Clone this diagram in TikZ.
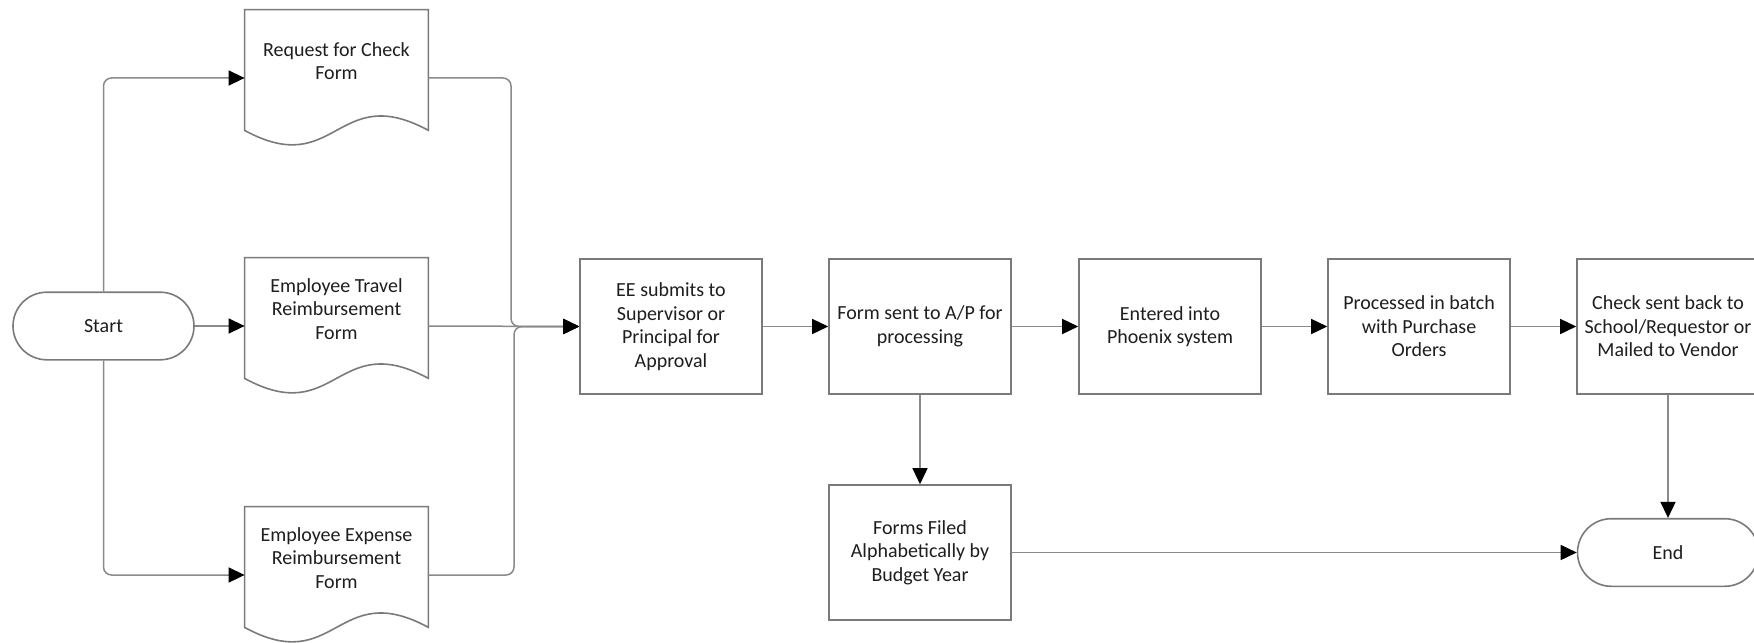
\documentclass[tikz,border=0pt]{standalone}
\usepackage{fontspec}
\setmainfont{Carlito}
\usetikzlibrary{arrows.meta}
\definecolor{edge}{HTML}{8A8A8A}
\definecolor{border}{HTML}{7A7A7A}
\definecolor{ink}{HTML}{1E1E1E}
\begin{document}
\begin{tikzpicture}[x=0.5pt,y=-0.5pt,
  every node/.style={font=\fontsize{10pt}{11.8pt}\selectfont, text=ink},
  proc/.style={draw=border, line width=0.8pt, fill=white, minimum width=91pt,
    minimum height=67.5pt, inner sep=2pt, align=center},
  term/.style={draw=border, line width=0.8pt, fill=white, rounded corners=16.9pt,
    minimum width=90.5pt, minimum height=33.8pt, align=center},
  docnode/.style={minimum width=91.5pt, minimum height=68pt, inner sep=0pt,
    align=center, text depth=17pt},
  docline/.style={draw=border, line width=0.8pt},
  conn/.style={draw=edge, line width=0.75pt, rounded corners=4pt,
    -{Triangle[length=8pt,width=7.5pt,black]}}]
\useasboundingbox (0,0) rectangle (1754,642);

% start and form documents
\node[term] (start) at (103.5,326) {Start};
\node[docnode] (d1) at (336.5,78)  {Request for Check\\Form};
\node[docnode] (d2) at (336.5,326) {Employee Travel\\Reimbursement\\Form};
\node[docnode] (d3) at (336.5,575) {Employee Expense\\Reimbursement\\Form};
\foreach \n in {d1,d2,d3}
  \draw[docline] (\n.north west) -- ([yshift=8pt]\n.south west)
    .. controls ([yshift=-17pt]\n.south) and ([yshift=33pt]\n.south)
    .. ([yshift=8pt]\n.south east) -- (\n.north east) -- cycle;

% main process row
\node[proc] (ee) at (671,326.5)  {EE submits to\\Supervisor or\\Principal for\\Approval};
\node[proc] (fs) at (920,326.5)  {Form sent to A/P for\\processing};
\node[proc] (en) at (1170,326.5) {Entered into\\Phoenix system};
\node[proc] (pr) at (1419,326.5) {Processed in batch\\with Purchase\\Orders};
\node[proc] (ck) at (1668,326.5) {Check sent back to\\School/Requestor or\\Mailed to Vendor};
\node[proc] (ff) at (920,552.5)  {Forms Filed\\Alphabetically by\\Budget Year};
\node[term] (end) at (1668,552.5) {End};

% merge points where the three forms join
\coordinate (mtop) at (511,326.5);
\coordinate (mbot) at (514,326.5);

% connectors
\draw[conn] (start.north) |- (d1.west);
\draw[conn] (start.east) -- (d2.west);
\draw[conn] (start.south) |- (d3.west);
\draw[conn] (d1.east) -| (mtop) -- (ee.west);
\draw[conn] (d3.east) -| (mbot) -- (ee.west);
\draw[conn] (d2.east) -- (ee.west);
\draw[conn] (ee) -- (fs);
\draw[conn] (fs) -- (en);
\draw[conn] (en) -- (pr);
\draw[conn] (pr) -- (ck);
\draw[conn] (fs) -- (ff);
\draw[conn] (ck) -- (end);
\draw[conn] (ff) -- (end);
\end{tikzpicture}
\end{document}
